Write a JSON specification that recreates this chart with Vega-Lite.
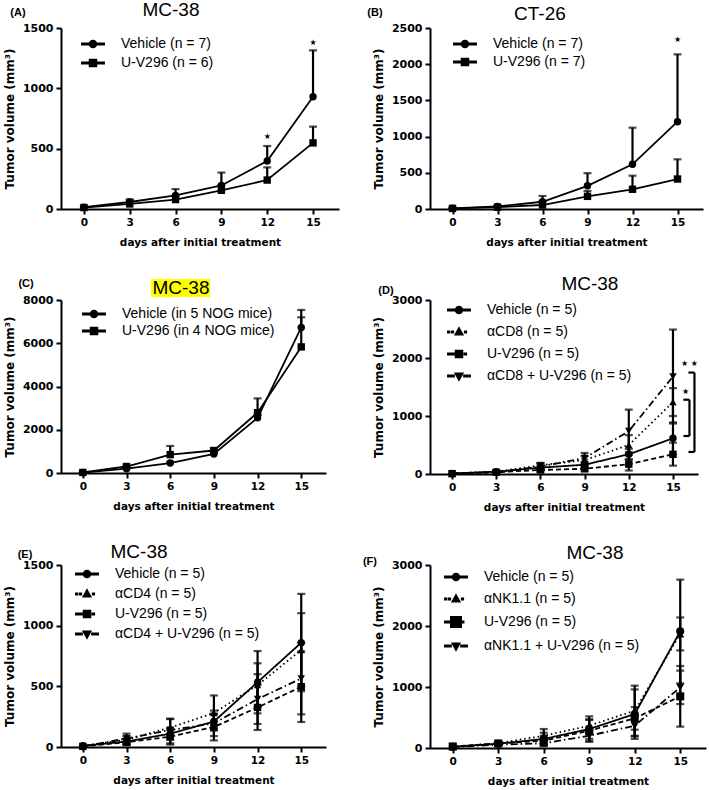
{
"$schema":"https://vega.github.io/schema/vega-lite/v6.json",
"padding":{"top":0,"left":3,"right":2,"bottom":0},
"background":"white",
"datasets":{
"A":[
{"group":"Vehicle (n = 7)","day":0,"mean":15,"lo":15,"hi":22},
{"group":"Vehicle (n = 7)","day":3,"mean":58,"lo":58,"hi":80},
{"group":"Vehicle (n = 7)","day":6,"mean":112,"lo":112,"hi":165},
{"group":"Vehicle (n = 7)","day":9,"mean":195,"lo":195,"hi":302},
{"group":"Vehicle (n = 7)","day":12,"mean":398,"lo":398,"hi":522},
{"group":"Vehicle (n = 7)","day":15,"mean":930,"lo":930,"hi":1315},
{"group":"U-V296 (n = 6)","day":0,"mean":12,"lo":12,"hi":18},
{"group":"U-V296 (n = 6)","day":3,"mean":42,"lo":42,"hi":72},
{"group":"U-V296 (n = 6)","day":6,"mean":78,"lo":78,"hi":110},
{"group":"U-V296 (n = 6)","day":9,"mean":155,"lo":155,"hi":200},
{"group":"U-V296 (n = 6)","day":12,"mean":240,"lo":240,"hi":345},
{"group":"U-V296 (n = 6)","day":15,"mean":548,"lo":548,"hi":682}
],
"A_ann":[{"kind":"title","label":"MC-38","day":5.7,"v":1653},{"kind":"panel","label":"(A)","day":-4.32,"v":1624},{"kind":"star","label":"★","day":12,"v":600},{"kind":"star","label":"★","day":15,"v":1375}],
"B":[
{"group":"Vehicle (n = 7)","day":0,"mean":10,"lo":10,"hi":20},
{"group":"Vehicle (n = 7)","day":3,"mean":35,"lo":35,"hi":50},
{"group":"Vehicle (n = 7)","day":6,"mean":100,"lo":100,"hi":180},
{"group":"Vehicle (n = 7)","day":9,"mean":320,"lo":320,"hi":495},
{"group":"Vehicle (n = 7)","day":12,"mean":617,"lo":617,"hi":1123},
{"group":"Vehicle (n = 7)","day":15,"mean":1206,"lo":1206,"hi":2136},
{"group":"U-V296 (n = 7)","day":0,"mean":8,"lo":8,"hi":15},
{"group":"U-V296 (n = 7)","day":3,"mean":25,"lo":25,"hi":40},
{"group":"U-V296 (n = 7)","day":6,"mean":55,"lo":55,"hi":110},
{"group":"U-V296 (n = 7)","day":9,"mean":175,"lo":175,"hi":250},
{"group":"U-V296 (n = 7)","day":12,"mean":272,"lo":272,"hi":460},
{"group":"U-V296 (n = 7)","day":15,"mean":414,"lo":414,"hi":686}
],
"B_ann":[{"kind":"title","label":"CT-26","day":5.83,"v":2700},{"kind":"panel","label":"(B)","day":-5.17,"v":2707},{"kind":"star","label":"★","day":15,"v":2330}],
"C":[
{"group":"Vehicle (in 5 NOG mice)","day":0,"mean":20,"lo":20,"hi":30},
{"group":"Vehicle (in 5 NOG mice)","day":3,"mean":200,"lo":200,"hi":260},
{"group":"Vehicle (in 5 NOG mice)","day":6,"mean":460,"lo":460,"hi":520},
{"group":"Vehicle (in 5 NOG mice)","day":9,"mean":880,"lo":880,"hi":960},
{"group":"Vehicle (in 5 NOG mice)","day":12,"mean":2550,"lo":2550,"hi":2700},
{"group":"Vehicle (in 5 NOG mice)","day":15,"mean":6730,"lo":6730,"hi":7200},
{"group":"U-V296 (in 4 NOG mice)","day":0,"mean":25,"lo":25,"hi":40},
{"group":"U-V296 (in 4 NOG mice)","day":3,"mean":300,"lo":300,"hi":340},
{"group":"U-V296 (in 4 NOG mice)","day":6,"mean":850,"lo":850,"hi":1250},
{"group":"U-V296 (in 4 NOG mice)","day":9,"mean":1040,"lo":1040,"hi":1150},
{"group":"U-V296 (in 4 NOG mice)","day":12,"mean":2790,"lo":2790,"hi":3450},
{"group":"U-V296 (in 4 NOG mice)","day":15,"mean":5830,"lo":5830,"hi":7540}
],
"C_ann":[{"kind":"title","label":"MC-38","day":6.74,"v":8555},{"kind":"panel","label":"(C)","day":-3.9,"v":8740}],
"C_hl":[{"day":4.68,"day2":8.73,"v":8139,"v2":8971}],
"D":[
{"group":"Vehicle (n = 5)","day":0,"mean":10,"lo":10,"hi":10},
{"group":"Vehicle (n = 5)","day":3,"mean":40,"lo":25,"hi":55},
{"group":"Vehicle (n = 5)","day":6,"mean":110,"lo":70,"hi":150},
{"group":"Vehicle (n = 5)","day":9,"mean":160,"lo":110,"hi":210},
{"group":"Vehicle (n = 5)","day":12,"mean":340,"lo":250,"hi":430},
{"group":"Vehicle (n = 5)","day":15,"mean":615,"lo":340,"hi":890},
{"group":"αCD8 (n = 5)","day":0,"mean":10,"lo":10,"hi":10},
{"group":"αCD8 (n = 5)","day":3,"mean":40,"lo":20,"hi":60},
{"group":"αCD8 (n = 5)","day":6,"mean":150,"lo":110,"hi":190},
{"group":"αCD8 (n = 5)","day":9,"mean":240,"lo":170,"hi":310},
{"group":"αCD8 (n = 5)","day":12,"mean":500,"lo":330,"hi":670},
{"group":"αCD8 (n = 5)","day":15,"mean":1240,"lo":1000,"hi":1480},
{"group":"U-V296 (n = 5)","day":0,"mean":5,"lo":5,"hi":5},
{"group":"U-V296 (n = 5)","day":3,"mean":30,"lo":15,"hi":45},
{"group":"U-V296 (n = 5)","day":6,"mean":70,"lo":40,"hi":100},
{"group":"U-V296 (n = 5)","day":9,"mean":90,"lo":50,"hi":130},
{"group":"U-V296 (n = 5)","day":12,"mean":170,"lo":60,"hi":250},
{"group":"U-V296 (n = 5)","day":15,"mean":340,"lo":144,"hi":540},
{"group":"αCD8 + U-V296 (n = 5)","day":0,"mean":10,"lo":10,"hi":10},
{"group":"αCD8 + U-V296 (n = 5)","day":3,"mean":30,"lo":15,"hi":45},
{"group":"αCD8 + U-V296 (n = 5)","day":6,"mean":130,"lo":70,"hi":190},
{"group":"αCD8 + U-V296 (n = 5)","day":9,"mean":275,"lo":185,"hi":363},
{"group":"αCD8 + U-V296 (n = 5)","day":12,"mean":740,"lo":370,"hi":1110},
{"group":"αCD8 + U-V296 (n = 5)","day":15,"mean":1680,"lo":870,"hi":2490}
],
"D_ann":[{"kind":"title","label":"MC-38","day":9.36,"v":3284},{"kind":"panel","label":"(D)","day":-4.49,"v":3155},{"kind":"star","label":"★","day":15.85,"v":1415},{"kind":"star","label":"★ ★","day":16.12,"v":1900}],
"D_br":[
{"day":16.12,"day2":16.12,"v":655,"v2":1281},
{"day":15.71,"day2":16.12,"v":655,"v2":655},
{"day":15.71,"day2":16.12,"v":1281,"v2":1281},
{"day":16.46,"day2":16.46,"v":380,"v2":1749},
{"day":16.05,"day2":16.46,"v":380,"v2":380},
{"day":16.05,"day2":16.46,"v":1749,"v2":1749}
],
"E":[
{"group":"Vehicle (n = 5)","day":0,"mean":10,"lo":10,"hi":10},
{"group":"Vehicle (n = 5)","day":3,"mean":45,"lo":20,"hi":70},
{"group":"Vehicle (n = 5)","day":6,"mean":110,"lo":60,"hi":160},
{"group":"Vehicle (n = 5)","day":9,"mean":210,"lo":150,"hi":270},
{"group":"Vehicle (n = 5)","day":12,"mean":534,"lo":277,"hi":791},
{"group":"Vehicle (n = 5)","day":15,"mean":860,"lo":460,"hi":1262},
{"group":"αCD4 (n = 5)","day":0,"mean":10,"lo":10,"hi":10},
{"group":"αCD4 (n = 5)","day":3,"mean":60,"lo":30,"hi":90},
{"group":"αCD4 (n = 5)","day":6,"mean":160,"lo":100,"hi":230},
{"group":"αCD4 (n = 5)","day":9,"mean":280,"lo":135,"hi":425},
{"group":"αCD4 (n = 5)","day":12,"mean":510,"lo":330,"hi":690},
{"group":"αCD4 (n = 5)","day":15,"mean":800,"lo":500,"hi":1103},
{"group":"U-V296 (n = 5)","day":0,"mean":5,"lo":5,"hi":5},
{"group":"U-V296 (n = 5)","day":3,"mean":40,"lo":15,"hi":65},
{"group":"U-V296 (n = 5)","day":6,"mean":85,"lo":30,"hi":140},
{"group":"U-V296 (n = 5)","day":9,"mean":165,"lo":54,"hi":276},
{"group":"U-V296 (n = 5)","day":12,"mean":326,"lo":140,"hi":512},
{"group":"U-V296 (n = 5)","day":15,"mean":497,"lo":206,"hi":788},
{"group":"αCD4 + U-V296 (n = 5)","day":0,"mean":5,"lo":5,"hi":5},
{"group":"αCD4 + U-V296 (n = 5)","day":3,"mean":70,"lo":30,"hi":110},
{"group":"αCD4 + U-V296 (n = 5)","day":6,"mean":140,"lo":20,"hi":234},
{"group":"αCD4 + U-V296 (n = 5)","day":9,"mean":195,"lo":90,"hi":300},
{"group":"αCD4 + U-V296 (n = 5)","day":12,"mean":395,"lo":190,"hi":600},
{"group":"αCD4 + U-V296 (n = 5)","day":15,"mean":565,"lo":269,"hi":860}
],
"E_ann":[{"kind":"title","label":"MC-38","day":3.86,"v":1607},{"kind":"panel","label":"(E)","day":-3.97,"v":1582}],
"F":[
{"group":"Vehicle (n = 5)","day":0,"mean":20,"lo":20,"hi":20},
{"group":"Vehicle (n = 5)","day":3,"mean":70,"lo":50,"hi":90},
{"group":"Vehicle (n = 5)","day":6,"mean":148,"lo":50,"hi":250},
{"group":"Vehicle (n = 5)","day":9,"mean":311,"lo":150,"hi":470},
{"group":"Vehicle (n = 5)","day":12,"mean":557,"lo":150,"hi":960},
{"group":"Vehicle (n = 5)","day":15,"mean":1913,"lo":1060,"hi":2760},
{"group":"αNK1.1 (n = 5)","day":0,"mean":20,"lo":20,"hi":20},
{"group":"αNK1.1 (n = 5)","day":3,"mean":80,"lo":60,"hi":100},
{"group":"αNK1.1 (n = 5)","day":6,"mean":200,"lo":90,"hi":311},
{"group":"αNK1.1 (n = 5)","day":9,"mean":366,"lo":220,"hi":519},
{"group":"αNK1.1 (n = 5)","day":12,"mean":612,"lo":200,"hi":1022},
{"group":"αNK1.1 (n = 5)","day":15,"mean":1870,"lo":1600,"hi":2140},
{"group":"U-V296 (n = 5)","day":0,"mean":25,"lo":25,"hi":25},
{"group":"U-V296 (n = 5)","day":3,"mean":75,"lo":55,"hi":95},
{"group":"U-V296 (n = 5)","day":6,"mean":120,"lo":40,"hi":200},
{"group":"U-V296 (n = 5)","day":9,"mean":284,"lo":104,"hi":460},
{"group":"U-V296 (n = 5)","day":12,"mean":486,"lo":300,"hi":670},
{"group":"U-V296 (n = 5)","day":15,"mean":847,"lo":350,"hi":1344},
{"group":"αNK1.1 + U-V296 (n = 5)","day":0,"mean":15,"lo":15,"hi":15},
{"group":"αNK1.1 + U-V296 (n = 5)","day":3,"mean":55,"lo":35,"hi":75},
{"group":"αNK1.1 + U-V296 (n = 5)","day":6,"mean":77,"lo":30,"hi":125},
{"group":"αNK1.1 + U-V296 (n = 5)","day":9,"mean":202,"lo":110,"hi":290},
{"group":"αNK1.1 + U-V296 (n = 5)","day":12,"mean":366,"lo":191,"hi":540},
{"group":"αNK1.1 + U-V296 (n = 5)","day":15,"mean":995,"lo":720,"hi":1268}
],
"F_ann":[{"kind":"title","label":"MC-38","day":9.38,"v":3197},{"kind":"panel","label":"(F)","day":-5.46,"v":3049}]
},
"columns":2,
"bounds":"flush",
"align":"each",
"spacing":{"row":91,"column":91},
"resolve":{"scale":{"shape":"independent","strokeDash":"independent"},"legend":{"shape":"independent","strokeDash":"independent"}},
"concat":[
{
"width":278,"height":181,
"data":{"name":"A"},
"encoding":{"x":{"field":"day","type":"quantitative","scale":{"domain":[-1.5,16.7],"nice":false,"zero":false},"axis":{"values":[0,3,6,9,12,15]},"title":"days after initial treatment"}},
"resolve":{"scale":{"shape":"independent"},"legend":{"shape":"independent"}},
"layer":[
{"transform":[{"filter":"datum.hi > datum.lo"}],"mark":{"type":"rule","strokeWidth":2.2,"color":"black"},"encoding":{"y":{"field":"lo","type":"quantitative","scale":{"domain":[0,1500],"nice":false},"axis":{"values":[0,500,1000,1500],"format":"d"},"title":"Tumor volume (mm³)"},"y2":{"field":"hi"}}},
{"transform":[{"filter":"datum.hi > datum.mean"}],"mark":{"type":"tick","orient":"horizontal","size":8,"thickness":2.2,"color":"black"},"encoding":{"y":{"field":"hi","type":"quantitative","scale":{"domain":[0,1500],"nice":false},"axis":{"values":[0,500,1000,1500],"format":"d"},"title":"Tumor volume (mm³)"}}},
{"mark":{"type":"line","color":"black","strokeWidth":1.8},"encoding":{"y":{"field":"mean","type":"quantitative","scale":{"domain":[0,1500],"nice":false},"axis":{"values":[0,500,1000,1500],"format":"d"},"title":"Tumor volume (mm³)"},"detail":{"field":"group","type":"nominal"}}},
{"mark":{"type":"point","filled":true,"color":"black","opacity":1,"size":55},"encoding":{"y":{"field":"mean","type":"quantitative","scale":{"domain":[0,1500],"nice":false},"axis":{"values":[0,500,1000,1500],"format":"d"},"title":"Tumor volume (mm³)"},"shape":{"field":"group","type":"nominal","scale":{"domain":["Vehicle (n = 7)","U-V296 (n = 6)"],"range":["circle","square"]},"legend":null}}},
{"transform":[{"filter":"false"}],"mark":{"type":"point","filled":true,"fill":"black","stroke":"black","strokeWidth":1.6,"opacity":1,"size":196},"encoding":{"y":{"field":"mean","type":"quantitative","scale":{"domain":[0,1500],"nice":false},"axis":{"values":[0,500,1000,1500],"format":"d"},"title":"Tumor volume (mm³)"},"shape":{"field":"group","type":"nominal","scale":{"domain":["Vehicle (n = 7)","U-V296 (n = 6)"],"range":["M-1.6,-0.12H1.6V0.12H-1.6ZM0.5,0A0.5,0.5,0,1,1,-0.5,0A0.5,0.5,0,1,1,0.5,0Z","M-1.6,-0.12H1.6V0.12H-1.6ZM-0.5,-0.5H0.5V0.5H-0.5Z"]},"legend":{"orient":"none","legendX":24,"legendY":8,"title":null,"symbolSize":196,"labelFont":"Liberation Sans","labelFontSize":14,"labelColor":"black","labelOffset":20,"labelLimit":400,"padding":0,"rowPadding":4,"encode":{"labels":{"fontSize":{"value":14}}}}}}},
{"data":{"name":"A_ann"},"transform":[{"filter":"datum.kind==='star'"}],"mark":{"type":"text","font":"DejaVu Sans","fontSize":8,"color":"black"},"encoding":{"y":{"field":"v","type":"quantitative","scale":{"domain":[0,1500],"nice":false},"axis":{"values":[0,500,1000,1500],"format":"d"},"title":"Tumor volume (mm³)"},"text":{"field":"label"}}},
{"data":{"name":"A_ann"},"transform":[{"filter":"datum.kind==='panel'"}],"mark":{"type":"text","font":"Liberation Sans","fontWeight":"bold","fontSize":11,"color":"black"},"encoding":{"y":{"field":"v","type":"quantitative","scale":{"domain":[0,1500],"nice":false},"axis":{"values":[0,500,1000,1500],"format":"d"},"title":"Tumor volume (mm³)"},"text":{"field":"label"}}},
{"data":{"name":"A_ann"},"transform":[{"filter":"datum.kind==='title'"}],"mark":{"type":"text","font":"Liberation Sans","fontSize":19,"color":"black"},"encoding":{"y":{"field":"v","type":"quantitative","scale":{"domain":[0,1500],"nice":false},"axis":{"values":[0,500,1000,1500],"format":"d"},"title":"Tumor volume (mm³)"},"text":{"field":"label"}}}
]
},
{
"width":273,"height":181,
"data":{"name":"B"},
"encoding":{"x":{"field":"day","type":"quantitative","scale":{"domain":[-1.5,16.7],"nice":false,"zero":false},"axis":{"values":[0,3,6,9,12,15]},"title":"days after initial treatment"}},
"resolve":{"scale":{"shape":"independent"},"legend":{"shape":"independent"}},
"layer":[
{"transform":[{"filter":"datum.hi > datum.lo"}],"mark":{"type":"rule","strokeWidth":2.2,"color":"black"},"encoding":{"y":{"field":"lo","type":"quantitative","scale":{"domain":[0,2500],"nice":false},"axis":{"values":[0,500,1000,1500,2000,2500],"format":"d"},"title":"Tumor volume (mm³)"},"y2":{"field":"hi"}}},
{"transform":[{"filter":"datum.hi > datum.mean"}],"mark":{"type":"tick","orient":"horizontal","size":8,"thickness":2.2,"color":"black"},"encoding":{"y":{"field":"hi","type":"quantitative","scale":{"domain":[0,2500],"nice":false},"axis":{"values":[0,500,1000,1500,2000,2500],"format":"d"},"title":"Tumor volume (mm³)"}}},
{"mark":{"type":"line","color":"black","strokeWidth":1.8},"encoding":{"y":{"field":"mean","type":"quantitative","scale":{"domain":[0,2500],"nice":false},"axis":{"values":[0,500,1000,1500,2000,2500],"format":"d"},"title":"Tumor volume (mm³)"},"detail":{"field":"group","type":"nominal"}}},
{"mark":{"type":"point","filled":true,"color":"black","opacity":1,"size":55},"encoding":{"y":{"field":"mean","type":"quantitative","scale":{"domain":[0,2500],"nice":false},"axis":{"values":[0,500,1000,1500,2000,2500],"format":"d"},"title":"Tumor volume (mm³)"},"shape":{"field":"group","type":"nominal","scale":{"domain":["Vehicle (n = 7)","U-V296 (n = 7)"],"range":["circle","square"]},"legend":null}}},
{"transform":[{"filter":"false"}],"mark":{"type":"point","filled":true,"fill":"black","stroke":"black","strokeWidth":1.6,"opacity":1,"size":196},"encoding":{"y":{"field":"mean","type":"quantitative","scale":{"domain":[0,2500],"nice":false},"axis":{"values":[0,500,1000,1500,2000,2500],"format":"d"},"title":"Tumor volume (mm³)"},"shape":{"field":"group","type":"nominal","scale":{"domain":["Vehicle (n = 7)","U-V296 (n = 7)"],"range":["M-1.6,-0.12H1.6V0.12H-1.6ZM0.5,0A0.5,0.5,0,1,1,-0.5,0A0.5,0.5,0,1,1,0.5,0Z","M-1.6,-0.12H1.6V0.12H-1.6ZM-0.5,-0.5H0.5V0.5H-0.5Z"]},"legend":{"orient":"none","legendX":27,"legendY":8,"title":null,"symbolSize":196,"labelFont":"Liberation Sans","labelFontSize":14,"labelColor":"black","labelOffset":20,"labelLimit":400,"padding":0,"rowPadding":3,"encode":{"labels":{"fontSize":{"value":14}}}}}}},
{"data":{"name":"B_ann"},"transform":[{"filter":"datum.kind==='star'"}],"mark":{"type":"text","font":"DejaVu Sans","fontSize":8,"color":"black"},"encoding":{"y":{"field":"v","type":"quantitative","scale":{"domain":[0,2500],"nice":false},"axis":{"values":[0,500,1000,1500,2000,2500],"format":"d"},"title":"Tumor volume (mm³)"},"text":{"field":"label"}}},
{"data":{"name":"B_ann"},"transform":[{"filter":"datum.kind==='panel'"}],"mark":{"type":"text","font":"Liberation Sans","fontWeight":"bold","fontSize":11,"color":"black"},"encoding":{"y":{"field":"v","type":"quantitative","scale":{"domain":[0,2500],"nice":false},"axis":{"values":[0,500,1000,1500,2000,2500],"format":"d"},"title":"Tumor volume (mm³)"},"text":{"field":"label"}}},
{"data":{"name":"B_ann"},"transform":[{"filter":"datum.kind==='title'"}],"mark":{"type":"text","font":"Liberation Sans","fontSize":19,"color":"black"},"encoding":{"y":{"field":"v","type":"quantitative","scale":{"domain":[0,2500],"nice":false},"axis":{"values":[0,500,1000,1500,2000,2500],"format":"d"},"title":"Tumor volume (mm³)"},"text":{"field":"label"}}}
]
},
{
"width":265,"height":173,
"data":{"name":"C"},
"encoding":{"x":{"field":"day","type":"quantitative","scale":{"domain":[-1.5,16.7],"nice":false,"zero":false},"axis":{"values":[0,3,6,9,12,15]},"title":"days after initial treatment"}},
"resolve":{"scale":{"shape":"independent"},"legend":{"shape":"independent"}},
"layer":[
{"data":{"name":"C_hl"},"mark":{"type":"rect","color":"#ffff00","opacity":1},"encoding":{"x2":{"field":"day2"},"y":{"field":"v","type":"quantitative","scale":{"domain":[0,8000],"nice":false},"axis":{"values":[0,2000,4000,6000,8000],"format":"d"},"title":"Tumor volume (mm³)"},"y2":{"field":"v2"}}},
{"transform":[{"filter":"datum.hi > datum.lo"}],"mark":{"type":"rule","strokeWidth":2.2,"color":"black"},"encoding":{"y":{"field":"lo","type":"quantitative","scale":{"domain":[0,8000],"nice":false},"axis":{"values":[0,2000,4000,6000,8000],"format":"d"},"title":"Tumor volume (mm³)"},"y2":{"field":"hi"}}},
{"transform":[{"filter":"datum.hi > datum.mean"}],"mark":{"type":"tick","orient":"horizontal","size":8,"thickness":2.2,"color":"black"},"encoding":{"y":{"field":"hi","type":"quantitative","scale":{"domain":[0,8000],"nice":false},"axis":{"values":[0,2000,4000,6000,8000],"format":"d"},"title":"Tumor volume (mm³)"}}},
{"mark":{"type":"line","color":"black","strokeWidth":1.8},"encoding":{"y":{"field":"mean","type":"quantitative","scale":{"domain":[0,8000],"nice":false},"axis":{"values":[0,2000,4000,6000,8000],"format":"d"},"title":"Tumor volume (mm³)"},"detail":{"field":"group","type":"nominal"}}},
{"mark":{"type":"point","filled":true,"color":"black","opacity":1,"size":55},"encoding":{"y":{"field":"mean","type":"quantitative","scale":{"domain":[0,8000],"nice":false},"axis":{"values":[0,2000,4000,6000,8000],"format":"d"},"title":"Tumor volume (mm³)"},"shape":{"field":"group","type":"nominal","scale":{"domain":["Vehicle (in 5 NOG mice)","U-V296 (in 4 NOG mice)"],"range":["circle","square"]},"legend":null}}},
{"transform":[{"filter":"false"}],"mark":{"type":"point","filled":true,"fill":"black","stroke":"black","strokeWidth":1.6,"opacity":1,"size":196},"encoding":{"y":{"field":"mean","type":"quantitative","scale":{"domain":[0,8000],"nice":false},"axis":{"values":[0,2000,4000,6000,8000],"format":"d"},"title":"Tumor volume (mm³)"},"shape":{"field":"group","type":"nominal","scale":{"domain":["Vehicle (in 5 NOG mice)","U-V296 (in 4 NOG mice)"],"range":["M-1.6,-0.12H1.6V0.12H-1.6ZM0.5,0A0.5,0.5,0,1,1,-0.5,0A0.5,0.5,0,1,1,0.5,0Z","M-1.6,-0.12H1.6V0.12H-1.6ZM-0.5,-0.5H0.5V0.5H-0.5Z"]},"legend":{"orient":"none","legendX":25,"legendY":6,"title":null,"symbolSize":196,"labelFont":"Liberation Sans","labelFontSize":14,"labelColor":"black","labelOffset":20,"labelLimit":400,"padding":0,"rowPadding":2,"encode":{"labels":{"fontSize":{"value":14}}}}}}},
{"data":{"name":"C_ann"},"transform":[{"filter":"datum.kind==='panel'"}],"mark":{"type":"text","font":"Liberation Sans","fontWeight":"bold","fontSize":11,"color":"black"},"encoding":{"y":{"field":"v","type":"quantitative","scale":{"domain":[0,8000],"nice":false},"axis":{"values":[0,2000,4000,6000,8000],"format":"d"},"title":"Tumor volume (mm³)"},"text":{"field":"label"}}},
{"data":{"name":"C_ann"},"transform":[{"filter":"datum.kind==='title'"}],"mark":{"type":"text","font":"Liberation Sans","fontSize":19,"color":"black"},"encoding":{"y":{"field":"v","type":"quantitative","scale":{"domain":[0,8000],"nice":false},"axis":{"values":[0,2000,4000,6000,8000],"format":"d"},"title":"Tumor volume (mm³)"},"text":{"field":"label"}}}
]
},
{
"width":268,"height":174,
"data":{"name":"D"},
"encoding":{"x":{"field":"day","type":"quantitative","scale":{"domain":[-1.5,16.7],"nice":false,"zero":false},"axis":{"values":[0,3,6,9,12,15]},"title":"days after initial treatment"}},
"resolve":{"scale":{"shape":"independent"},"legend":{"shape":"independent"}},
"layer":[
{"transform":[{"filter":"datum.hi > datum.lo"}],"mark":{"type":"rule","strokeWidth":2.2,"color":"black"},"encoding":{"y":{"field":"lo","type":"quantitative","scale":{"domain":[0,3000],"nice":false},"axis":{"values":[0,1000,2000,3000],"format":"d"},"title":"Tumor volume (mm³)"},"y2":{"field":"hi"}}},
{"transform":[{"filter":"datum.hi > datum.mean"}],"mark":{"type":"tick","orient":"horizontal","size":8,"thickness":2.2,"color":"black"},"encoding":{"y":{"field":"hi","type":"quantitative","scale":{"domain":[0,3000],"nice":false},"axis":{"values":[0,1000,2000,3000],"format":"d"},"title":"Tumor volume (mm³)"}}},
{"transform":[{"filter":"datum.lo < datum.mean"}],"mark":{"type":"tick","orient":"horizontal","size":8,"thickness":2.2,"color":"black"},"encoding":{"y":{"field":"lo","type":"quantitative","scale":{"domain":[0,3000],"nice":false},"axis":{"values":[0,1000,2000,3000],"format":"d"},"title":"Tumor volume (mm³)"}}},
{"mark":{"type":"line","color":"black","strokeWidth":1.8},"encoding":{"y":{"field":"mean","type":"quantitative","scale":{"domain":[0,3000],"nice":false},"axis":{"values":[0,1000,2000,3000],"format":"d"},"title":"Tumor volume (mm³)"},"strokeDash":{"field":"group","type":"nominal","scale":{"domain":["Vehicle (n = 5)","αCD8 (n = 5)","U-V296 (n = 5)","αCD8 + U-V296 (n = 5)"],"range":[[1,0],[1.5,3],[5,3],[7,3,1.5,3]]},"legend":null}}},
{"mark":{"type":"point","filled":true,"color":"black","opacity":1,"size":55},"encoding":{"y":{"field":"mean","type":"quantitative","scale":{"domain":[0,3000],"nice":false},"axis":{"values":[0,1000,2000,3000],"format":"d"},"title":"Tumor volume (mm³)"},"shape":{"field":"group","type":"nominal","scale":{"domain":["Vehicle (n = 5)","αCD8 (n = 5)","U-V296 (n = 5)","αCD8 + U-V296 (n = 5)"],"range":["circle","triangle-up","square","triangle-down"]},"legend":null}}},
{"transform":[{"filter":"false"}],"mark":{"type":"point","filled":true,"fill":"black","stroke":"black","strokeWidth":1.6,"opacity":1,"size":196},"encoding":{"y":{"field":"mean","type":"quantitative","scale":{"domain":[0,3000],"nice":false},"axis":{"values":[0,1000,2000,3000],"format":"d"},"title":"Tumor volume (mm³)"},"shape":{"field":"group","type":"nominal","scale":{"domain":["Vehicle (n = 5)","αCD8 (n = 5)","U-V296 (n = 5)","αCD8 + U-V296 (n = 5)"],"range":["M-1.6,-0.12H1.6V0.12H-1.6ZM0.5,0A0.5,0.5,0,1,1,-0.5,0A0.5,0.5,0,1,1,0.5,0Z","M-1.6,-0.12H-1.35V0.12H-1.6ZM-1.05,-0.12H-0.8V0.12H-1.05ZM0.8,-0.12H1.05V0.12H0.8ZM0,-0.6L0.55,0.4L-0.55,0.4Z","M-1.6,-0.12H-0.7V0.12H-1.6ZM0.75,-0.12H1.05V0.12H0.75ZM-0.5,-0.5H0.5V0.5H-0.5Z","M-1.6,-0.12H-0.7V0.12H-1.6ZM0.7,-0.12H1.6V0.12H0.7ZM-0.55,-0.4L0.55,-0.4L0,0.6Z"]},"legend":{"orient":"none","legendX":21,"legendY":2,"title":null,"symbolSize":196,"labelFont":"Liberation Sans","labelFontSize":14,"labelColor":"black","labelOffset":20,"labelLimit":400,"padding":0,"rowPadding":7,"encode":{"labels":{"fontSize":{"value":14}}}}}}},
{"data":{"name":"D_br"},"mark":{"type":"rule","strokeWidth":2.2,"color":"black"},"encoding":{"x2":{"field":"day2"},"y":{"field":"v","type":"quantitative","scale":{"domain":[0,3000],"nice":false},"axis":{"values":[0,1000,2000,3000],"format":"d"},"title":"Tumor volume (mm³)"},"y2":{"field":"v2"}}},
{"data":{"name":"D_ann"},"transform":[{"filter":"datum.kind==='star'"}],"mark":{"type":"text","font":"DejaVu Sans","fontSize":8,"color":"black"},"encoding":{"y":{"field":"v","type":"quantitative","scale":{"domain":[0,3000],"nice":false},"axis":{"values":[0,1000,2000,3000],"format":"d"},"title":"Tumor volume (mm³)"},"text":{"field":"label"}}},
{"data":{"name":"D_ann"},"transform":[{"filter":"datum.kind==='panel'"}],"mark":{"type":"text","font":"Liberation Sans","fontWeight":"bold","fontSize":11,"color":"black"},"encoding":{"y":{"field":"v","type":"quantitative","scale":{"domain":[0,3000],"nice":false},"axis":{"values":[0,1000,2000,3000],"format":"d"},"title":"Tumor volume (mm³)"},"text":{"field":"label"}}},
{"data":{"name":"D_ann"},"transform":[{"filter":"datum.kind==='title'"}],"mark":{"type":"text","font":"Liberation Sans","fontSize":19,"color":"black"},"encoding":{"y":{"field":"v","type":"quantitative","scale":{"domain":[0,3000],"nice":false},"axis":{"values":[0,1000,2000,3000],"format":"d"},"title":"Tumor volume (mm³)"},"text":{"field":"label"}}}
]
},
{
"width":265,"height":182,
"data":{"name":"E"},
"encoding":{"x":{"field":"day","type":"quantitative","scale":{"domain":[-1.5,16.7],"nice":false,"zero":false},"axis":{"values":[0,3,6,9,12,15]},"title":"days after initial treatment"}},
"resolve":{"scale":{"shape":"independent"},"legend":{"shape":"independent"}},
"layer":[
{"transform":[{"filter":"datum.hi > datum.lo"}],"mark":{"type":"rule","strokeWidth":2.2,"color":"black"},"encoding":{"y":{"field":"lo","type":"quantitative","scale":{"domain":[0,1500],"nice":false},"axis":{"values":[0,500,1000,1500],"format":"d"},"title":"Tumor volume (mm³)"},"y2":{"field":"hi"}}},
{"transform":[{"filter":"datum.hi > datum.mean"}],"mark":{"type":"tick","orient":"horizontal","size":8,"thickness":2.2,"color":"black"},"encoding":{"y":{"field":"hi","type":"quantitative","scale":{"domain":[0,1500],"nice":false},"axis":{"values":[0,500,1000,1500],"format":"d"},"title":"Tumor volume (mm³)"}}},
{"transform":[{"filter":"datum.lo < datum.mean"}],"mark":{"type":"tick","orient":"horizontal","size":8,"thickness":2.2,"color":"black"},"encoding":{"y":{"field":"lo","type":"quantitative","scale":{"domain":[0,1500],"nice":false},"axis":{"values":[0,500,1000,1500],"format":"d"},"title":"Tumor volume (mm³)"}}},
{"mark":{"type":"line","color":"black","strokeWidth":1.8},"encoding":{"y":{"field":"mean","type":"quantitative","scale":{"domain":[0,1500],"nice":false},"axis":{"values":[0,500,1000,1500],"format":"d"},"title":"Tumor volume (mm³)"},"strokeDash":{"field":"group","type":"nominal","scale":{"domain":["Vehicle (n = 5)","αCD4 (n = 5)","U-V296 (n = 5)","αCD4 + U-V296 (n = 5)"],"range":[[1,0],[1.5,3],[5,3],[7,3,1.5,3]]},"legend":null}}},
{"mark":{"type":"point","filled":true,"color":"black","opacity":1,"size":55},"encoding":{"y":{"field":"mean","type":"quantitative","scale":{"domain":[0,1500],"nice":false},"axis":{"values":[0,500,1000,1500],"format":"d"},"title":"Tumor volume (mm³)"},"shape":{"field":"group","type":"nominal","scale":{"domain":["Vehicle (n = 5)","αCD4 (n = 5)","U-V296 (n = 5)","αCD4 + U-V296 (n = 5)"],"range":["circle","triangle-up","square","triangle-down"]},"legend":null}}},
{"transform":[{"filter":"false"}],"mark":{"type":"point","filled":true,"fill":"black","stroke":"black","strokeWidth":1.6,"opacity":1,"size":196},"encoding":{"y":{"field":"mean","type":"quantitative","scale":{"domain":[0,1500],"nice":false},"axis":{"values":[0,500,1000,1500],"format":"d"},"title":"Tumor volume (mm³)"},"shape":{"field":"group","type":"nominal","scale":{"domain":["Vehicle (n = 5)","αCD4 (n = 5)","U-V296 (n = 5)","αCD4 + U-V296 (n = 5)"],"range":["M-1.6,-0.12H1.6V0.12H-1.6ZM0.5,0A0.5,0.5,0,1,1,-0.5,0A0.5,0.5,0,1,1,0.5,0Z","M-1.6,-0.12H-1.35V0.12H-1.6ZM-1.05,-0.12H-0.8V0.12H-1.05ZM0.8,-0.12H1.05V0.12H0.8ZM0,-0.6L0.55,0.4L-0.55,0.4Z","M-1.6,-0.12H-0.7V0.12H-1.6ZM0.75,-0.12H1.05V0.12H0.75ZM-0.5,-0.5H0.5V0.5H-0.5Z","M-1.6,-0.12H-0.7V0.12H-1.6ZM0.7,-0.12H1.6V0.12H0.7ZM-0.55,-0.4L0.55,-0.4L0,0.6Z"]},"legend":{"orient":"none","legendX":18,"legendY":1,"title":null,"symbolSize":196,"labelFont":"Liberation Sans","labelFontSize":14,"labelColor":"black","labelOffset":20,"labelLimit":400,"padding":0,"rowPadding":5,"encode":{"labels":{"fontSize":{"value":14}}}}}}},
{"data":{"name":"E_ann"},"transform":[{"filter":"datum.kind==='panel'"}],"mark":{"type":"text","font":"Liberation Sans","fontWeight":"bold","fontSize":11,"color":"black"},"encoding":{"y":{"field":"v","type":"quantitative","scale":{"domain":[0,1500],"nice":false},"axis":{"values":[0,500,1000,1500],"format":"d"},"title":"Tumor volume (mm³)"},"text":{"field":"label"}}},
{"data":{"name":"E_ann"},"transform":[{"filter":"datum.kind==='title'"}],"mark":{"type":"text","font":"Liberation Sans","fontSize":19,"color":"black"},"encoding":{"y":{"field":"v","type":"quantitative","scale":{"domain":[0,1500],"nice":false},"axis":{"values":[0,500,1000,1500],"format":"d"},"title":"Tumor volume (mm³)"},"text":{"field":"label"}}}
]
},
{
"width":276,"height":183,
"data":{"name":"F"},
"encoding":{"x":{"field":"day","type":"quantitative","scale":{"domain":[-1.5,16.7],"nice":false,"zero":false},"axis":{"values":[0,3,6,9,12,15]},"title":"days after initial treatment"}},
"resolve":{"scale":{"shape":"independent"},"legend":{"shape":"independent"}},
"layer":[
{"transform":[{"filter":"datum.hi > datum.lo"}],"mark":{"type":"rule","strokeWidth":2.2,"color":"black"},"encoding":{"y":{"field":"lo","type":"quantitative","scale":{"domain":[0,3000],"nice":false},"axis":{"values":[0,1000,2000,3000],"format":"d"},"title":"Tumor volume (mm³)"},"y2":{"field":"hi"}}},
{"transform":[{"filter":"datum.hi > datum.mean"}],"mark":{"type":"tick","orient":"horizontal","size":8,"thickness":2.2,"color":"black"},"encoding":{"y":{"field":"hi","type":"quantitative","scale":{"domain":[0,3000],"nice":false},"axis":{"values":[0,1000,2000,3000],"format":"d"},"title":"Tumor volume (mm³)"}}},
{"transform":[{"filter":"datum.lo < datum.mean"}],"mark":{"type":"tick","orient":"horizontal","size":8,"thickness":2.2,"color":"black"},"encoding":{"y":{"field":"lo","type":"quantitative","scale":{"domain":[0,3000],"nice":false},"axis":{"values":[0,1000,2000,3000],"format":"d"},"title":"Tumor volume (mm³)"}}},
{"mark":{"type":"line","color":"black","strokeWidth":1.8},"encoding":{"y":{"field":"mean","type":"quantitative","scale":{"domain":[0,3000],"nice":false},"axis":{"values":[0,1000,2000,3000],"format":"d"},"title":"Tumor volume (mm³)"},"strokeDash":{"field":"group","type":"nominal","scale":{"domain":["Vehicle (n = 5)","αNK1.1 (n = 5)","U-V296 (n = 5)","αNK1.1 + U-V296 (n = 5)"],"range":[[1,0],[1.5,3],[5,3],[7,3,1.5,3]]},"legend":null}}},
{"mark":{"type":"point","filled":true,"color":"black","opacity":1,"size":65},"encoding":{"y":{"field":"mean","type":"quantitative","scale":{"domain":[0,3000],"nice":false},"axis":{"values":[0,1000,2000,3000],"format":"d"},"title":"Tumor volume (mm³)"},"shape":{"field":"group","type":"nominal","scale":{"domain":["Vehicle (n = 5)","αNK1.1 (n = 5)","U-V296 (n = 5)","αNK1.1 + U-V296 (n = 5)"],"range":["circle","triangle-up","square","triangle-down"]},"legend":null}}},
{"transform":[{"filter":"false"}],"mark":{"type":"point","filled":true,"fill":"black","stroke":"black","strokeWidth":1.6,"opacity":1,"size":196},"encoding":{"y":{"field":"mean","type":"quantitative","scale":{"domain":[0,3000],"nice":false},"axis":{"values":[0,1000,2000,3000],"format":"d"},"title":"Tumor volume (mm³)"},"shape":{"field":"group","type":"nominal","scale":{"domain":["Vehicle (n = 5)","αNK1.1 (n = 5)","U-V296 (n = 5)","αNK1.1 + U-V296 (n = 5)"],"range":["M-1.6,-0.12H1.6V0.12H-1.6ZM0.5,0A0.5,0.5,0,1,1,-0.5,0A0.5,0.5,0,1,1,0.5,0Z","M-1.6,-0.12H-1.35V0.12H-1.6ZM-1.05,-0.12H-0.8V0.12H-1.05ZM0.8,-0.12H1.05V0.12H0.8ZM0,-0.6L0.55,0.4L-0.55,0.4Z","M-1.6,-0.12H-0.85V0.12H-1.6ZM0.85,-0.12H1.1V0.12H0.85ZM-0.75,-0.75H0.75V0.75H-0.75Z","M-1.6,-0.12H-0.7V0.12H-1.6ZM0.7,-0.12H1.6V0.12H0.7ZM-0.55,-0.4L0.55,-0.4L0,0.6Z"]},"legend":{"orient":"none","legendX":18,"legendY":4,"title":null,"symbolSize":196,"labelFont":"Liberation Sans","labelFontSize":14,"labelColor":"black","labelOffset":20,"labelLimit":400,"padding":0,"rowPadding":7,"encode":{"labels":{"fontSize":{"value":14}}}}}}},
{"data":{"name":"F_ann"},"transform":[{"filter":"datum.kind==='panel'"}],"mark":{"type":"text","font":"Liberation Sans","fontWeight":"bold","fontSize":11,"color":"black"},"encoding":{"y":{"field":"v","type":"quantitative","scale":{"domain":[0,3000],"nice":false},"axis":{"values":[0,1000,2000,3000],"format":"d"},"title":"Tumor volume (mm³)"},"text":{"field":"label"}}},
{"data":{"name":"F_ann"},"transform":[{"filter":"datum.kind==='title'"}],"mark":{"type":"text","font":"Liberation Sans","fontSize":19,"color":"black"},"encoding":{"y":{"field":"v","type":"quantitative","scale":{"domain":[0,3000],"nice":false},"axis":{"values":[0,1000,2000,3000],"format":"d"},"title":"Tumor volume (mm³)"},"text":{"field":"label"}}}
]
}
],
"config":{
"view":{"stroke":null},
"axis":{"domainColor":"black","domainWidth":2,"tickColor":"black","tickWidth":2,"tickSize":5,"grid":false,"labelFont":"DejaVu Sans","labelFontWeight":"bold","labelColor":"black","labelPadding":3,"labelFlush":false,"labelOverlap":false,"titleFont":"DejaVu Sans","titleFontWeight":"bold","titleColor":"black"},
"axisX":{"labelFontSize":10.5,"titleFontSize":10.5,"titlePadding":10},
"axisY":{"labelFontSize":11,"titleFontSize":12,"titlePadding":6}
}
}
